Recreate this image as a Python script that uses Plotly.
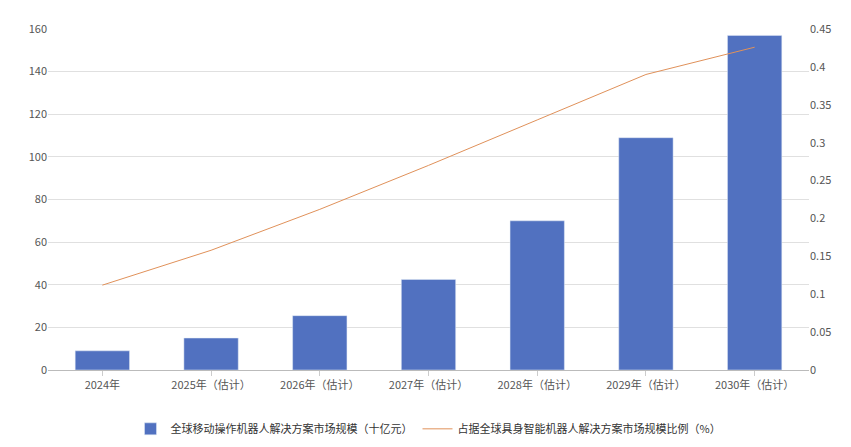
import plotly.graph_objects as go

categories = ["2024年", "2025年（估计）", "2026年（估计）", "2027年（估计）",
              "2028年（估计）", "2029年（估计）", "2030年（估计）"]
market_size = [9, 15, 25.5, 42.5, 70, 109, 157]
share_ratio = [0.112, 0.158, 0.212, 0.270, 0.330, 0.390, 0.426]

fig = go.Figure()
fig.add_trace(go.Bar(
    x=categories, y=market_size, name="全球移动操作机器人解决方案市场规模（十亿元）",
    marker_color="#5171C0", width=0.5,
))
fig.add_trace(go.Scatter(
    x=categories, y=share_ratio, name="占据全球具身智能机器人解决方案市场规模比例（%）",
    mode="lines", line=dict(color="#E0915A", width=1), yaxis="y2",
))

fig.update_layout(
    width=851, height=447,
    margin=dict(l=40, r=50, t=16, b=70),
    plot_bgcolor="white", paper_bgcolor="white",
    font=dict(family="Noto Sans CJK SC", size=11, color="#555"),
    xaxis=dict(showline=True, linecolor="#bbb", ticks="outside", tickcolor="#ccc"),
    yaxis=dict(range=[0, 160], dtick=20, gridcolor="#e0e0e0", zeroline=False),
    yaxis2=dict(range=[0, 0.45], dtick=0.05, overlaying="y", side="right",
                showgrid=False, zeroline=False),
    legend=dict(orientation="h", x=0.5, xanchor="center", y=-0.13, yanchor="top",
                font=dict(size=11, color="#333")),
    bargap=0.5,
)

fig.write_html("out.html")
